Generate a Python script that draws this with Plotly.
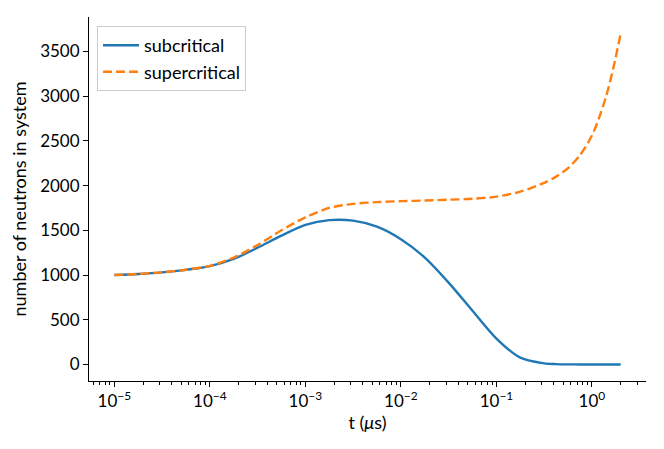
import plotly.graph_objects as go

# time in microseconds
t_us = [1e-5, 1.78e-5, 3.16e-5, 5.62e-5, 1e-4, 1.78e-4, 3.16e-4, 5.62e-4,
        1e-3, 1.78e-3, 3.16e-3, 5.62e-3, 1e-2, 1.78e-2, 3.16e-2, 5.62e-2,
        1e-1, 1.78e-1, 3.16e-1, 4.22e-1, 5.62e-1, 7.5e-1, 1.0, 1.19, 1.41, 1.68, 2.0]

subcritical = [1000, 1012, 1030, 1058, 1100, 1180, 1305, 1440,
               1560, 1614, 1608, 1540, 1400, 1195, 915, 600,
               290, 76, 12, 4, 1, 0, 0, 0, 0, 0, 0]

supercritical = [1000, 1012, 1030, 1059, 1103, 1195, 1335, 1500,
                 1645, 1750, 1796, 1815, 1826, 1833, 1842, 1853,
                 1876, 1932, 2030, 2100, 2195, 2340, 2560, 2760, 3000, 3320, 3700]

y_ticks = [0, 500, 1000, 1500, 2000, 2500, 3000, 3500]
x_ticks = [1e-5, 1e-4, 1e-3, 1e-2, 1e-1, 1e0]
x_ticktext = ["10<sup>\u22125</sup>", "10<sup>\u22124</sup>", "10<sup>\u22123</sup>",
              "10<sup>\u22122</sup>", "10<sup>\u22121</sup>", "10<sup>0</sup>"]

FONT = "Lato, Noto Sans, sans-serif"

fig = go.Figure()
fig.add_trace(go.Scatter(
    x=t_us, y=subcritical, name="subcritical", mode="lines",
    line=dict(color="#1f77b4", width=2.4, shape="spline", smoothing=0.8),
))
fig.add_trace(go.Scatter(
    x=t_us, y=supercritical, name="supercritical", mode="lines",
    line=dict(color="#ff7f0e", width=2.4, dash="9px,4px", shape="spline", smoothing=0.8),
))

# page body has an 8px margin, so the figure is a bit smaller than the window
fig.update_layout(
    width=656, height=441,
    margin=dict(l=81, r=18, t=9, b=68),
    plot_bgcolor="white", paper_bgcolor="white",
    font=dict(family=FONT, size=17, color="black"),
    showlegend=True,
    legend=dict(
        x=0.0144, y=0.975, xanchor="left", yanchor="top",
        bgcolor="rgba(255,255,255,0.8)", bordercolor="#cccccc", borderwidth=1,
        font=dict(size=18), itemwidth=36, tracegroupgap=0,
    ),
)
fig.update_xaxes(
    type="log", range=[-5.265, 0.566], automargin=False,
    tickvals=x_ticks, ticktext=x_ticktext,
    showgrid=False, zeroline=False,
    showline=True, linecolor="black", linewidth=1,
    ticks="outside", ticklen=5, tickcolor="black",
    minor=dict(ticks="outside", ticklen=3, tickcolor="black", dtick="D1", showgrid=False),
    title=dict(text="t (<i>\u03bc</i>s)", font=dict(size=18), standoff=5),
)
fig.update_yaxes(
    range=[-185, 3885], automargin=False,
    tickvals=y_ticks,
    showgrid=False, zeroline=False,
    showline=True, linecolor="black", linewidth=1,
    ticks="outside", ticklen=5, tickcolor="black",
    title=dict(text="number of neutrons in system", font=dict(size=18)),
)

fig.write_html("out.html")
